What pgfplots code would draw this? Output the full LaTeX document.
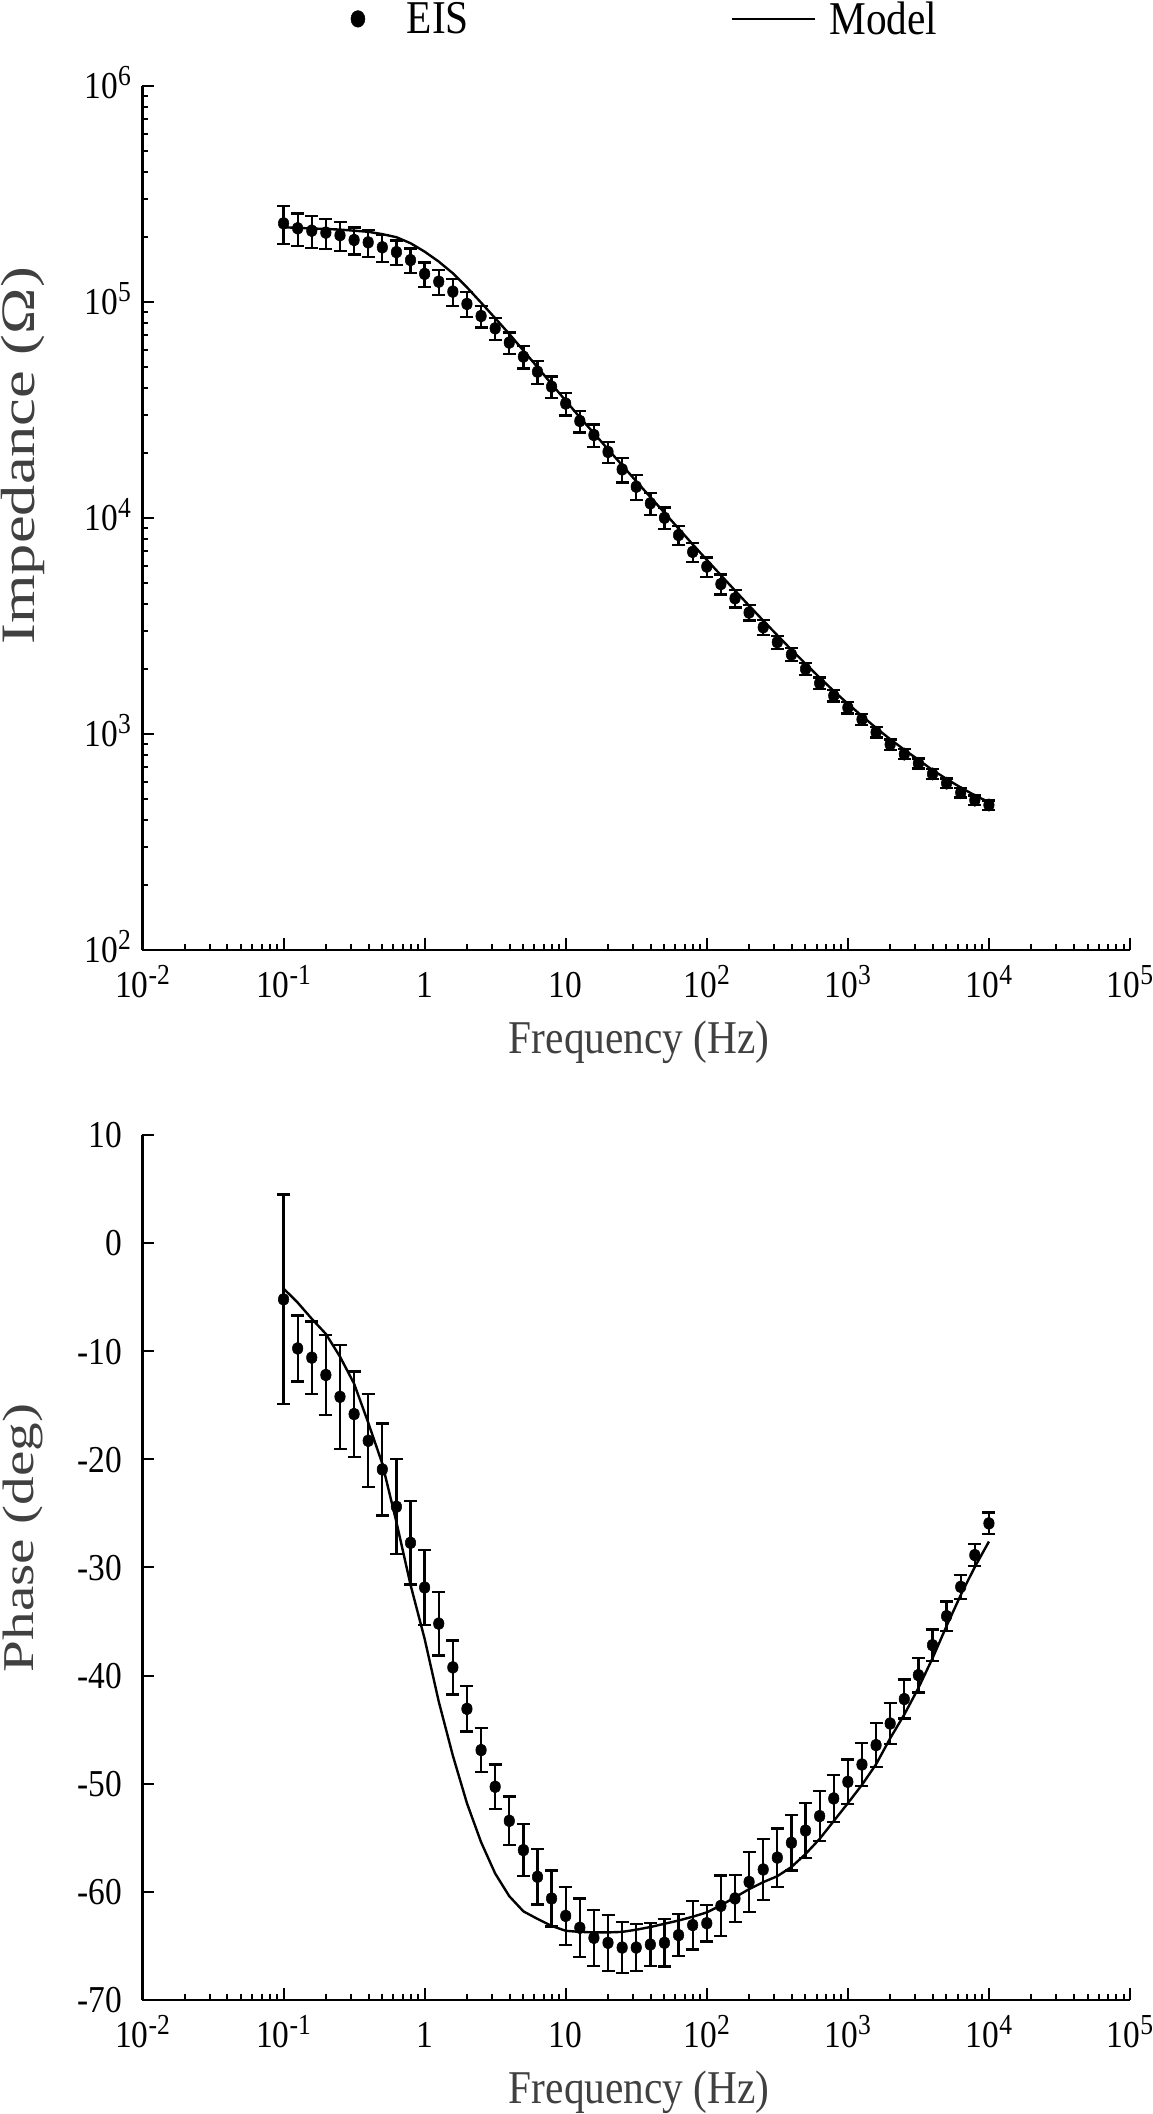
\documentclass[border=0pt]{standalone}
\usepackage{fontspec}
\setmainfont{Liberation Serif}[FakeStretch=0.88]
\newfontfamily\ylabfont{Liberation Serif}[FakeStretch=1.3]
\usepackage{pgfplots}
\pgfplotsset{compat=1.18}
\usepackage{pgfplotstable}

\newcommand\sups[1]{\raisebox{13pt}{\fontsize{29}{29}\selectfont #1}}
\newcommand\tickfont{\fontsize{38}{38}\selectfont}
\newcommand\titlefont{\fontsize{47}{47}\selectfont}
\newcommand\ytitlefont{\ylabfont\fontsize{44}{44}\selectfont}
\newcommand\ytitlefontbig{\ylabfont\fontsize{48}{48}\selectfont}
\definecolor{titlegray}{RGB}{64,64,64}

\pgfplotstableread{
f z r
0.1 231200 0.20
0.1259 219300 0.17
0.1585 213800 0.17
0.1995 209400 0.157
0.2512 203700 0.152
0.3162 193600 0.143
0.3981 188800 0.143
0.5012 179100 0.143
0.6310 170200 0.13
0.7943 156300 0.13
1 134900 0.13
1.259 124200 0.13
1.585 111700 0.143
1.995 97950 0.133
2.512 86100 0.115
3.162 75510 0.12
3.981 64860 0.115
5.012 55850 0.12
6.310 47530 0.125
7.943 40550 0.115
10 33880 0.12
12.59 28120 0.115
15.85 24210 0.12
19.95 20230 0.115
25.12 16790 0.13
31.62 13960 0.13
39.81 11690 0.115
50.12 10020 0.115
63.10 8337 0.10
79.43 6966 0.10
100 5957 0.103
125.9 4943 0.106
158.5 4246 0.092
199.5 3648 0.082
251.2 3119 0.08
316.2 2661 0.071
398.1 2333 0.068
501.2 2000 0.065
631.0 1718 0.062
794.3 1503 0.06
1000 1324 0.06
1259 1169 0.058
1585 1019 0.056
1995 895 0.055
2512 807 0.054
3162 731 0.053
3981 653 0.052
5012 592 0.05
6310 535 0.05
7943 494 0.05
10000 469 0.05
}\eisZ

\pgfplotstableread{
f m
0.1 221800
0.1259 220300
0.1585 218800
0.1995 217800
0.2512 216300
0.3162 213800
0.3981 211300
0.5012 206100
0.6310 199500
0.7943 187100
1 171000
1.259 153800
1.585 135800
1.995 116900
2.512 99310
3.162 84140
3.981 71120
5.012 59570
6.310 49890
7.943 41690
10 34910
12.59 29240
15.85 24660
19.95 20800
25.12 17540
31.62 14790
39.81 12500
50.12 10570
63.10 8933
79.43 7551
100 6397
125.9 5433
158.5 4613
199.5 3926
251.2 3350
316.2 2864
398.1 2455
501.2 2113
631.0 1824
794.3 1581
1000 1380
1259 1211
1585 1067
1995 946
2512 845
3162 760
3981 681
5012 619
6310 565
7943 520
10000 483
}\modelZ

\pgfplotstableread{
f p e
0.1 -5.20 9.7
0.1259 -9.74 3.05
0.1585 -10.59 3.35
0.1995 -12.20 3.7
0.2512 -14.21 4.8
0.3162 -15.81 3.95
0.3981 -18.28 4.3
0.5012 -20.93 4.25
0.6310 -24.38 4.4
0.7943 -27.72 3.85
1 -31.85 3.45
1.259 -35.19 2.95
1.585 -39.24 2.5
1.995 -43.07 2.1
2.512 -46.89 2.05
3.162 -50.28 2.05
3.981 -53.43 2.25
5.012 -56.14 2.4
6.310 -58.61 2.55
7.943 -60.61 2.6
10 -62.22 2.7
12.59 -63.32 2.7
15.85 -64.25 2.6
19.95 -64.71 2.6
25.12 -65.15 2.35
31.62 -65.15 2.15
39.81 -64.87 2.0
50.12 -64.71 2.2
63.10 -64.00 1.95
79.43 -63.07 2.25
100 -62.90 1.7
125.9 -61.29 2.8
158.5 -60.61 2.15
199.5 -59.08 2.8
251.2 -57.93 2.85
316.2 -56.83 2.7
398.1 -55.46 2.55
501.2 -54.33 2.55
631.0 -52.99 2.3
794.3 -51.36 2.15
1000 -49.82 2.05
1259 -48.22 2.0
1585 -46.43 2.05
1995 -44.43 1.9
2512 -42.17 1.8
3162 -39.95 1.6
3981 -37.18 1.45
5012 -34.50 1.35
6310 -31.79 1.1
7943 -28.85 1.0
10000 -25.92 1.0
}\eisP

\pgfplotstableread{
f m
0.1 -4.2
0.1259 -5.5
0.1585 -7.0
0.1995 -8.4
0.2512 -10.5
0.3162 -13.0
0.3981 -16.6
0.5012 -20.4
0.6310 -25.8
0.7943 -31.6
1 -36.6
1.259 -42.4
1.585 -47.4
1.995 -51.8
2.512 -55.4
3.162 -58.3
3.981 -60.4
5.012 -61.8
6.310 -62.5
7.943 -63.15
10 -63.6
12.59 -63.7
15.85 -63.75
19.95 -63.75
25.12 -63.7
31.62 -63.5
39.81 -63.25
50.12 -62.95
63.10 -62.65
79.43 -62.3
100 -61.9
125.9 -61.25
158.5 -60.5
199.5 -59.75
251.2 -59.1
316.2 -58.55
398.1 -57.7
501.2 -56.5
631.0 -55.1
794.3 -53.45
1000 -51.8
1259 -50.1
1585 -48.2
1995 -45.8
2512 -43.6
3162 -41.15
3981 -38.4
5012 -35.4
6310 -32.55
7943 -29.95
10000 -27.6
}\modelP

\pgfplotsset{
  myaxis/.style={
    scale only axis, width=987.5pt,
    xmin=1e-2, xmax=1e5,
    axis lines*=left,
    axis line style={line width=2.6pt, black},
    tick align=inside,
    major tick length=12pt, minor tick length=6pt,
    tick style={line width=2pt, black},
    xtick={1e-2,1e-1,1,10,100,1000,10000,100000},
    xticklabels={10\sups{-2},10\sups{-1},1,10,10\sups{2},10\sups{3},10\sups{4},10\sups{5}},
    minor xtick={0.02,0.03,0.04,0.05,0.06,0.07,0.08,0.09,0.2,0.3,0.4,0.5,0.6,0.7,0.8,0.9,2,3,4,5,6,7,8,9,20,30,40,50,60,70,80,90,200,300,400,500,600,700,800,900,2000,3000,4000,5000,6000,7000,8000,9000,20000,30000,40000,50000,60000,70000,80000,90000},
    xticklabel style={font=\tickfont, inner sep=0pt, anchor=base, yshift=-47.5pt},
    xlabel={Frequency (Hz)},
    xlabel style={font=\titlefont, text=titlegray, inner sep=0pt, at={(axis description cs:0.5,0)}, anchor=base, yshift=-103.4pt, xshift=3pt},
    ylabel style={text=titlegray, inner sep=0pt, anchor=center},
  },
  eis/.style={only marks, black, mark=*, mark size=6.2pt,
    mark options={xscale=0.85, fill=black, draw=black, line width=0.5pt},
    error bars/y dir=both,
    error bars/error bar style={line width=2.3pt, black},
    error bars/error mark options={rotate=90, line width=2.3pt, mark size=6.5pt, black}},
}

\begin{document}
\begin{tikzpicture}
\useasboundingbox (0pt,0pt) rectangle (1152pt,2114pt);

\begin{axis}[myaxis, xmode=log,
  at={(142.5pt,1164pt)}, anchor=south west, height=864pt,
  ymode=log, ymin=1e2, ymax=1e6,
  ytick={1e2,1e3,1e4,1e5,1e6},
  yticklabels={10\sups{2},10\sups{3},10\sups{4},10\sups{5},10\sups{6}},
  minor ytick={200,300,400,500,600,700,800,900,2000,3000,4000,5000,6000,7000,8000,9000,20000,30000,40000,50000,60000,70000,80000,90000,200000,300000,400000,500000,600000,700000,800000,900000},
  yticklabel style={font=\tickfont, inner sep=0pt, anchor=base east, xshift=-11.5pt, yshift=-12.85pt},
  ylabel={Impedance (Ω)},
  ylabel style={font=\ytitlefontbig, at={(axis description cs:-0.121,0.572)}},
  legend columns=2,
  legend cell align=left,
  legend style={draw=none, fill=none, inner sep=0pt, outer sep=0pt,
    at={(axis description cs:0.2111,1.0776)}, anchor=west,
    nodes={inner sep=0pt, font=\titlefont, text=black},
    /tikz/every even column/.append style={column sep=262pt}},
]
\addplot[eis, error bars/y explicit relative,
  legend image code/.code={%
    \draw[black, line width=0.5pt] plot[mark=*, mark size=8.3pt, mark options={xscale=0.84, fill=black, draw=black}] coordinates {(0pt,0pt)};}]
  table[x=f, y=z, y error=r] {\eisZ};
\addlegendentry{\hspace*{42pt}EIS}
\addplot[black, line width=2.4pt, mark=none,
  legend image code/.code={%
    \draw[black, line width=2.4pt, fill=none] (0pt,0pt) -- (83pt,0pt);}]
  table[x=f, y=m] {\modelZ};
\addlegendentry{\hspace*{13pt}Model}
\end{axis}

\begin{axis}[myaxis, xmode=log,
  at={(142.5pt,114pt)}, anchor=south west, height=865pt,
  ymin=-70, ymax=10,
  ytick={-70,-60,-50,-40,-30,-20,-10,0,10},
  yticklabels={-70,-60,-50,-40,-30,-20,-10,0,10},
  yticklabel style={font=\tickfont, inner sep=0pt, anchor=base east, xshift=-20pt, yshift=-12.85pt},
  ylabel={Phase (deg)},
  ylabel style={font=\ytitlefont, at={(axis description cs:-0.121,0.534)}},
]
\addplot[eis, error bars/y explicit] table[x=f, y=p, y error=e] {\eisP};
\addplot[black, line width=2.4pt, mark=none] table[x=f, y=m] {\modelP};
\end{axis}
\end{tikzpicture}
\end{document}
